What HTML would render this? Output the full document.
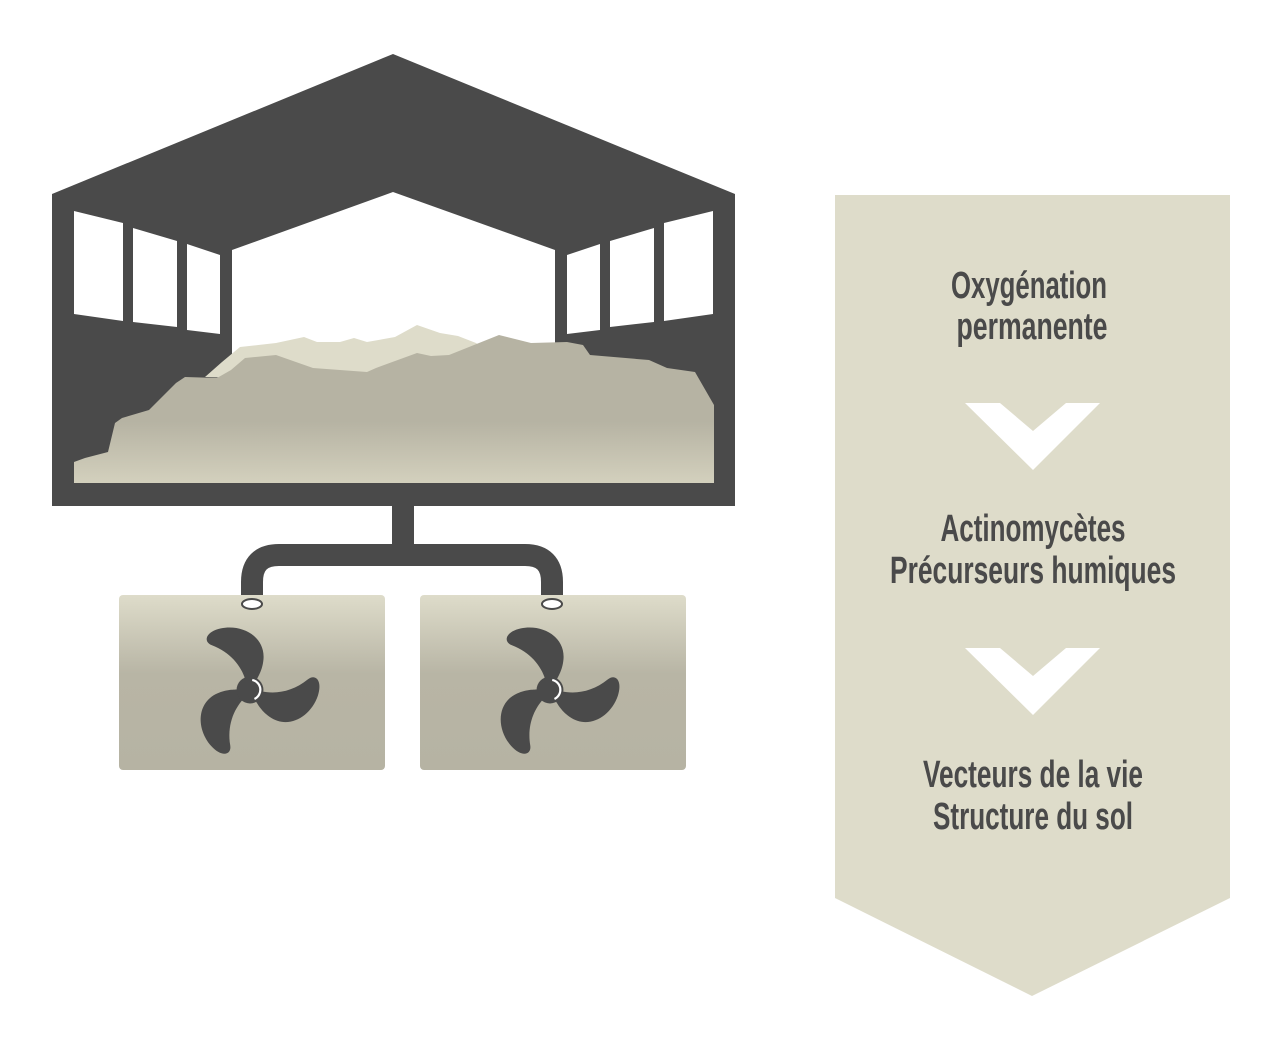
<!DOCTYPE html>
<html><head><meta charset="utf-8"><style>html,body{margin:0;padding:0;background:#fff}svg{display:block}</style></head>
<body>
<svg width="1281" height="1047" viewBox="0 0 1281 1047" xmlns="http://www.w3.org/2000/svg">
<defs>
<linearGradient id="cg" gradientUnits="userSpaceOnUse" x1="0" y1="330" x2="0" y2="483">
<stop offset="0" stop-color="#b6b3a3"/><stop offset="0.6" stop-color="#b6b3a3"/><stop offset="1" stop-color="#d3d0bd"/></linearGradient>
<linearGradient id="bg" x1="0" y1="0" x2="0" y2="1">
<stop offset="0" stop-color="#dedcca"/><stop offset="0.45" stop-color="#b8b5a5"/><stop offset="1" stop-color="#b6b3a3"/></linearGradient>
<g id="fan">
<path id="blade" d="M-4,-9 C-8,-22 -18,-34 -34,-40 C-42,-43 -40,-52 -26,-55 C-6,-59 14,-47 12,-27 C11,-17 7,-12 6,-9 Z" fill="#4a4a4a"/>
<use href="#blade" transform="rotate(120)"/>
<use href="#blade" transform="rotate(240)"/>
<circle r="12" fill="#4a4a4a"/>
<path d="M2,-9 A9,9 0 0 1 4,8" stroke="#fff" stroke-width="2" fill="none"/>
</g>
</defs>
<polygon points="393,54 735,194 735,506 52,506 52,194" fill="#4a4a4a"/>
<polygon points="74,211 123,223 123,321 74,314" fill="#fff"/>
<polygon points="133,228 177,241 177,327 133,322" fill="#fff"/>
<polygon points="187,244 220,255 220,334 187,330" fill="#fff"/>
<polygon points="713,211 664,223 664,321 713,314" fill="#fff"/>
<polygon points="654,228 610,241 610,327 654,322" fill="#fff"/>
<polygon points="600,244 567,255 567,334 600,330" fill="#fff"/>
<polygon points="232,250 393,192 555,250 555,400 232,400" fill="#fff"/>
<path d="M205,377 L222,362 L240,347 L276,343 L304,337 L317,342 L340,342 L354,338 L367,342 L395,337 L417,325 L440,333 L458,336 L476,343 L500,360 L300,380 Z" fill="#dedcca"/>
<path d="M74,462 L85,458 L108,452 L115,423 L122,418 L149,410 L176,383 L185,377 L217,378 L231,370 L245,358 L276,355 L313,368 L367,372 L376,368 L417,353 L431,356 L449,355 L499,335 L531,343 L567,342 L583,345 L590,355 L649,360 L667,368 L695,372 L714,405 L714,483 L74,483 Z" fill="url(#cg)"/>
<rect x="392" y="505" width="22" height="40" fill="#4a4a4a"/>
<path d="M252,603 V582 Q252,555 279,555 H525 Q552,555 552,582 V603" stroke="#4a4a4a" stroke-width="22" fill="none"/>
<rect x="119" y="595" width="266" height="175" rx="4" fill="url(#bg)"/>
<rect x="420" y="595" width="266" height="175" rx="4" fill="url(#bg)"/>
<ellipse cx="252" cy="604" rx="10" ry="5" fill="#fff" stroke="#4a4a4a" stroke-width="2"/>
<ellipse cx="552" cy="604" rx="10" ry="5" fill="#fff" stroke="#4a4a4a" stroke-width="2"/>
<use href="#fan" transform="translate(250,690) scale(1.12)"/>
<use href="#fan" transform="translate(550,690) scale(1.12)"/>
<polygon points="835,195 1230,195 1230,898 1032,996 835,898" fill="#dedcca"/>
<polygon points="965,403 1000,403 1033,431 1066,403 1100,403 1033,470" fill="#fff"/>
<polygon points="965,648 1000,648 1033,676 1066,648 1100,648 1033,715" fill="#fff"/>
<g font-family="'Liberation Sans Narrow','Liberation Sans',sans-serif" font-size="38" font-weight="bold" fill="#4a4a4a" text-anchor="middle">
<text x="1029" y="298" textLength="156" lengthAdjust="spacingAndGlyphs">Oxygénation</text>
<text x="1032" y="339" textLength="151" lengthAdjust="spacingAndGlyphs">permanente</text>
<text x="1033" y="541" textLength="185" lengthAdjust="spacingAndGlyphs">Actinomycètes</text>
<text x="1033" y="583" textLength="286" lengthAdjust="spacingAndGlyphs">Précurseurs humiques</text>
<text x="1033" y="787" textLength="220" lengthAdjust="spacingAndGlyphs">Vecteurs de la vie</text>
<text x="1033" y="829" textLength="200" lengthAdjust="spacingAndGlyphs">Structure du sol</text>
</g>
</svg>
</body></html>
